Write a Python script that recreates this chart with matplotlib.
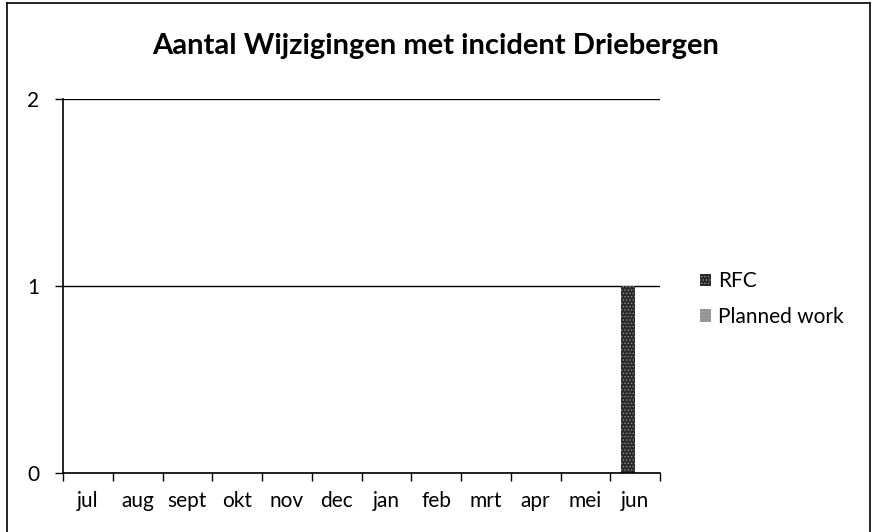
import numpy as np
import matplotlib
matplotlib.use("Agg")
import matplotlib.pyplot as plt
from matplotlib.lines import Line2D

# data
months = ["jul", "aug", "sept", "okt", "nov", "dec", "jan", "feb", "mrt", "apr", "mei", "jun"]
rfc = [0, 0, 0, 0, 0, 0, 0, 0, 0, 0, 0, 1]
planned_work = [0, 0, 0, 0, 0, 0, 0, 0, 0, 0, 0, 0]
y_ticks = [0, 1, 2]

plt.rcParams['font.family'] = ['Lato', 'DejaVu Sans']
plt.rcParams['hatch.color'] = '#888888'
plt.rcParams['hatch.linewidth'] = 0.6

fig = plt.figure(figsize=(8.72, 5.32), dpi=100)
ax = fig.add_axes([63/872, 1 - 473/532, (660 - 63)/872, (473 - 99)/532])

x = np.arange(len(months))
w = 0.285
ax.bar(x - w/2, rfc, w, color='#2b2b2b', hatch='.....', linewidth=0, label='RFC')
ax.bar(x + w/2, planned_work, w, color='#9a9a9a', hatch='.....', linewidth=0, label='Planned work')

ax.set_xlim(-0.5, len(months) - 0.5)
ax.set_ylim(0, 2)
ax.set_yticks(y_ticks)
ax.set_yticklabels([str(v) for v in y_ticks], fontsize=15)
ax.set_xticks(x)
ax.set_xticklabels(months, fontsize=15)
ax.tick_params(axis='x', length=0, pad=13)
ax.set_xticks(np.arange(len(months) + 1) - 0.5, minor=True)
ax.tick_params(axis='x', which='minor', length=6, width=1, direction='out', color='black')
ax.tick_params(axis='y', length=6, width=1, pad=11, color='black')

ax.yaxis.grid(True, color='black', linewidth=1)
ax.set_axisbelow(True)
for s in ['top', 'right']:
    ax.spines[s].set_visible(False)
for s in ['left', 'bottom']:
    ax.spines[s].set_color('black')
    ax.spines[s].set_linewidth(1.2)

fig.text(0.5, 1 - 46/532, "Aantal Wijzigingen met incident Driebergen",
         ha='center', va='center', fontsize=21, fontweight='bold')

ax.legend(loc='center left', bbox_to_anchor=(1.035, 0.465), frameon=False,
          fontsize=15, handlelength=0.55, handleheight=0.55, handletextpad=0.35,
          labelspacing=0.75)

# outer frame (left, top, right edges of the scanned chart border)
fig.add_artist(Line2D([7/872, 7/872], [0, 1 - 3/532], transform=fig.transFigure,
                      color='black', linewidth=1.2))
fig.add_artist(Line2D([7/872, 870/872], [1 - 3/532, 1 - 3/532], transform=fig.transFigure,
                      color='black', linewidth=1.2))
fig.add_artist(Line2D([870/872, 870/872], [0, 1 - 3/532], transform=fig.transFigure,
                      color='black', linewidth=1.2))

fig.savefig("out.png", dpi=100)
